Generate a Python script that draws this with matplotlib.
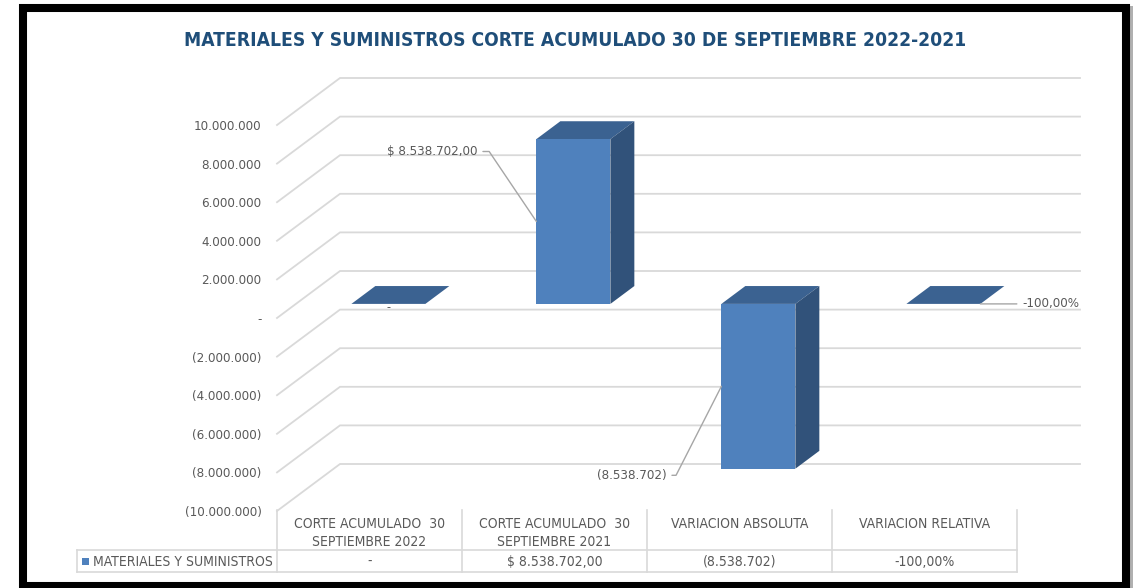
import matplotlib

matplotlib.use("Agg")
import matplotlib.pyplot as plt
import numpy as np
from matplotlib.patches import Polygon, Rectangle
from matplotlib.ticker import FuncFormatter

# data
categories = [
    "CORTE ACUMULADO  30\nSEPTIEMBRE 2022",
    "CORTE ACUMULADO  30\nSEPTIEMBRE 2021",
    "VARIACION ABSOLUTA",
    "VARIACION RELATIVA",
]
series_name = "MATERIALES Y SUMINISTROS"
values = [0, 8538702, -8538702, -1.0]
value_labels = ["-", "$ 8.538.702,00", "(8.538.702)", "-100,00%"]
yticks = list(range(-10_000_000, 10_000_001, 2_000_000))

W, H = 1137, 588
plt.rcParams["font.family"] = ["DejaVu Sans"]
plt.rcParams["font.stretch"] = "condensed"
GRAY_TXT = "#595959"
GRID = "#D9D9D9"
FRONT = "#4F81BD"
SIDE = "#31527A"
TOP = "#3B6291"

# oblique "3d" offset for the full depth, in data units
DX = 63 / 185
DY = 47 * 20_000_000 / 386
F0, F1 = 0.30, 0.68   # bar depth range
HALF = 0.2            # half bar width in category units


def px(x0, y0, x1, y1):
    # pixel box (top-left origin) -> figure fraction rect
    return [x0 / W, 1 - y1 / H, (x1 - x0) / W, (y1 - y0) / H]


def fmt_tick(v, _):
    if v == 0:
        return "-"
    s = f"{abs(v):,.0f}".replace(",", ".")
    return f"({s})" if v < 0 else s


fig = plt.figure(figsize=(W / 100, H / 100), dpi=100)
ax = fig.add_axes(px(277, 125, 1017, 511))
ax.set_xlim(0, len(categories))
ax.set_ylim(-10_000_000, 10_000_000)
for s in ax.spines.values():
    s.set_visible(False)
ax.set_xticks([])
ax.set_yticks(yticks)
ax.yaxis.set_major_formatter(FuncFormatter(fmt_tick))
ax.tick_params(axis="y", length=0, pad=11, labelsize=9.5, labelcolor=GRAY_TXT)

# side wall + back wall gridlines
n = len(categories)
for v in yticks:
    ax.plot([0, DX, n + DX], [v, v + DY, v + DY], color=GRID, lw=1.3,
            clip_on=False, zorder=1, solid_joinstyle="miter")

# bars
for i, v in enumerate(values):
    c = i + 0.5
    xl, xr = c - HALF, c + HALF
    top = max(v, 0)

    def P(x, y, f):
        return (x + f * DX, y + f * DY)

    ax.add_patch(Polygon([P(xl, top, F0), P(xr, top, F0), P(xr, top, F1), P(xl, top, F1)],
                         closed=True, fc=TOP, ec="none", clip_on=False, zorder=3))
    if v != 0:
        ax.add_patch(Polygon([P(xr, 0, F0), P(xr, v, F0), P(xr, v, F1), P(xr, 0, F1)],
                             closed=True, fc=SIDE, ec="none", clip_on=False, zorder=3))
        ax.add_patch(Polygon([P(xl, 0, F0), P(xr, 0, F0), P(xr, v, F0), P(xl, v, F0)],
                             closed=True, fc=FRONT, ec="none", clip_on=False, zorder=4))

# data labels with leader lines
lead = dict(arrowstyle="-", color="#A6A6A6", lw=1.0, shrinkA=2, shrinkB=0)
fx = F0 * DX
fy = F0 * DY
ax.annotate(value_labels[0], xy=(0.5 + fx, fy), xytext=(0, -4), textcoords="offset pixels",
            ha="center", va="center", fontsize=9, color=GRAY_TXT, zorder=5)
ax.annotate(value_labels[1], xy=(1.5 - HALF + fx, fy + values[1] / 2),
            xytext=(-59, 70), textcoords="offset pixels", ha="right", va="center",
            fontsize=9.5, color=GRAY_TXT, zorder=5,
            arrowprops=dict(lead, relpos=(1, 0.5),
                            connectionstyle="angle,angleA=0,angleB=124,rad=0"))
ax.annotate(value_labels[2], xy=(2.5 - HALF + fx, fy + values[2] / 2),
            xytext=(-55, -89), textcoords="offset pixels", ha="right", va="center",
            fontsize=9.5, color=GRAY_TXT, zorder=5,
            arrowprops=dict(lead, relpos=(1, 0.5),
                            connectionstyle="angle,angleA=0,angleB=63,rad=0"))
ax.annotate(value_labels[3], xy=(3.5 + HALF + fx, fy), xytext=(42, 0),
            textcoords="offset pixels", ha="left", va="center",
            fontsize=9.5, color=GRAY_TXT, zorder=5,
            arrowprops=dict(lead, relpos=(0, 0.5)))

# data table under the chart
tb = fig.add_axes(px(277, 510, 1017, 572))
tb.set_xlim(0, n)
tb.set_ylim(62, 0)
tb.axis("off")
left = -200 / 185
tkw = dict(color=GRID, lw=1.2, clip_on=False)
for k in range(n + 1):
    tb.plot([k, k], [0, 62], **tkw)
tb.plot([left, left], [40, 62], **tkw)
tb.plot([left, n], [40, 40], **tkw)
tb.plot([left, n], [62, 62], **tkw)
for i, (cat, lab) in enumerate(zip(categories, value_labels)):
    tb.text(i + 0.5, 7, cat, ha="center", va="top", fontsize=10,
            color=GRAY_TXT, linespacing=1.4)
    tb.text(i + 0.5, 51.5, lab, ha="center", va="center", fontsize=10, color=GRAY_TXT)
tb.add_patch(Rectangle((-195 / 185, 48), 7 / 185, 7, fc=FRONT, ec="none", clip_on=False))
tb.text(-184 / 185, 51.5, series_name, ha="left", va="center",
        fontsize=10, color=GRAY_TXT)

fig.text(575 / W, 1 - 40 / H, "MATERIALES Y SUMINISTROS CORTE ACUMULADO 30 DE SEPTIEMBRE 2022-2021",
         ha="center", va="center", fontsize=13.8, fontweight="bold", color="#1F4E79")

# black picture frame with a light shadow on the right
fig.add_artist(Rectangle((1129 / W, 0), 4 / W, 1 - 6 / H, transform=fig.transFigure,
                         fc="#B0B0B0", ec="none"))
fig.add_artist(Rectangle((23 / W, 1 - 586 / H), 1102.5 / W, 578 / H,
                         transform=fig.transFigure, fc="none", ec="black", lw=5.8))

fig.savefig("out.png", dpi=100)
